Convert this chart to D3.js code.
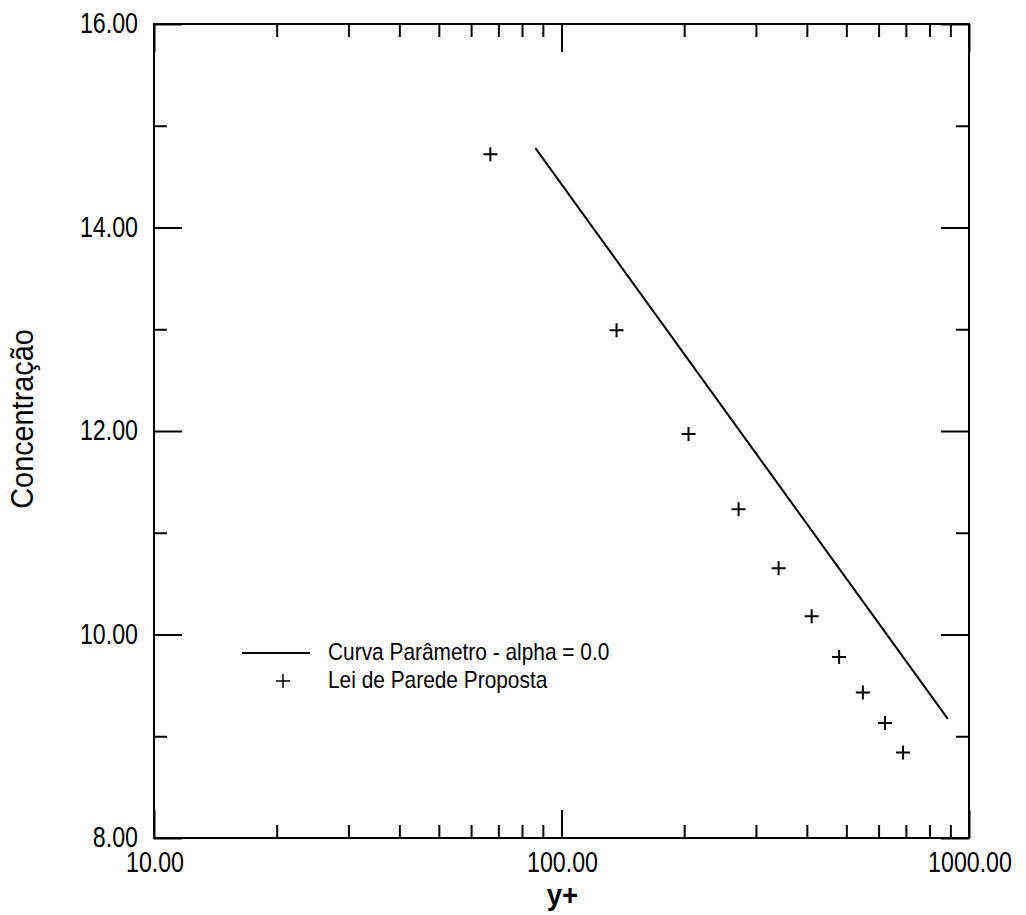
<!DOCTYPE html>
<html>
<head>
<meta charset="utf-8">
<script src="https://cdn.jsdelivr.net/npm/d3@7"></script>
<style>
  html, body { margin: 0; padding: 0; background: #fff; }
  svg { display: block; }
  text { font-family: "Liberation Sans", Arial, sans-serif; fill: #000; }
</style>
</head>
<body>
<svg id="chart" width="1026" height="915"></svg>
<script>
// ---- data ----
const seriesLineName = "Curva Parâmetro - alpha = 0.0";
const seriesPointsName = "Lei de Parede Proposta";
const lineX = [86.3, 887];
const lineY = [14.78, 9.17];
const pointsX = [66.9, 136.5, 205, 272, 341, 411, 480, 549, 622, 689];
const pointsY = [14.72, 12.99, 11.97, 11.23, 10.65, 10.18, 9.78, 9.43, 9.13, 8.84];
const xMajorTicks = [10, 100, 1000];
const xMajorLabels = ["10.00", "100.00", "1000.00"];
const xMinorTicks = [20, 30, 40, 50, 60, 70, 80, 90, 200, 300, 400, 500, 600, 700, 800, 900];
const yMajorTicks = [8, 10, 12, 14, 16];
const yMajorLabels = ["8.00", "10.00", "12.00", "14.00", "16.00"];
const yMinorTicks = [9, 11, 13, 15];
const xTitle = "y+";
const yTitle = "Concentração";

// ---- layout ----
const L = 154, R = 969, T = 24, B = 838;
const svg = d3.select("#chart");
const x = d3.scaleLog().domain([10, 1000]).range([L, R]);
const y = d3.scaleLinear().domain([8, 16]).range([B, T]);

const MAJ = 28, MIN = 13;

function axisGroup(gen, tx, ty) {
  const g = svg.append("g").attr("transform", `translate(${tx},${ty})`).call(gen);
  g.select(".domain").remove();
  g.selectAll("text").remove();
  g.selectAll("line").attr("stroke", "#000").attr("stroke-width", 2);
  return g;
}
// bottom (inward = upward)
axisGroup(d3.axisBottom(x).tickValues(xMajorTicks).tickSize(-MAJ), 0, B);
axisGroup(d3.axisBottom(x).tickValues(xMinorTicks).tickSize(-MIN), 0, B);
// top (inward = downward)
axisGroup(d3.axisTop(x).tickValues(xMajorTicks).tickSize(-MAJ), 0, T);
axisGroup(d3.axisTop(x).tickValues(xMinorTicks).tickSize(-MIN), 0, T);
// left
axisGroup(d3.axisLeft(y).tickValues(yMajorTicks).tickSize(-MAJ), L, 0);
axisGroup(d3.axisLeft(y).tickValues(yMinorTicks).tickSize(-MIN), L, 0);
// right
axisGroup(d3.axisRight(y).tickValues(yMajorTicks).tickSize(-MAJ), R, 0);
axisGroup(d3.axisRight(y).tickValues(yMinorTicks).tickSize(-MIN), R, 0);

// frame
svg.append("rect").attr("x", L).attr("y", T).attr("width", R - L).attr("height", B - T)
  .attr("fill", "none").attr("stroke", "#000").attr("stroke-width", 2);

// tick labels
const SX = 0.8;
svg.append("g").selectAll("text").data(xMajorTicks).join("text")
  .attr("transform", d => `translate(${x(d) + 1},872) scale(${SX},1)`)
  .attr("text-anchor", "middle").attr("font-size", 29)
  .text((d, i) => xMajorLabels[i]);
svg.append("g").selectAll("text").data(yMajorTicks).join("text")
  .attr("transform", d => `translate(138,${y(d) + 9}) scale(${SX},1)`)
  .attr("text-anchor", "end").attr("font-size", 29)
  .text((d, i) => yMajorLabels[i]);

// axis titles
svg.append("text")
  .attr("transform", `translate(${(L + R) / 2 + 1},905) scale(0.95,1)`)
  .attr("text-anchor", "middle").attr("font-size", 29).attr("font-weight", "bold")
  .text(xTitle);
svg.append("text")
  .attr("transform", `translate(33,${(B + T) / 2 - 12}) rotate(-90) scale(0.93,1)`)
  .attr("text-anchor", "middle").attr("font-size", 31)
  .text(yTitle);

// line series
const lineData = lineX.map((v, i) => [v, lineY[i]]);
svg.append("path").datum(lineData)
  .attr("fill", "none").attr("stroke", "#000").attr("stroke-width", 2)
  .attr("d", d3.line().x(d => x(d[0])).y(d => y(d[1])));

// crosses
const cs = 7;
const crossPath = (cx, cy) => `M${cx - cs},${cy}H${cx + cs}M${cx},${cy - cs}V${cy + cs}`;
svg.append("g").selectAll("path").data(pointsX.map((v, i) => [v, pointsY[i]])).join("path")
  .attr("d", d => crossPath(x(d[0]), y(d[1])))
  .attr("stroke", "#000").attr("stroke-width", 2).attr("fill", "none");

// legend
const lg = svg.append("g");
lg.append("line").attr("x1", 242).attr("x2", 310).attr("y1", 653).attr("y2", 653)
  .attr("stroke", "#000").attr("stroke-width", 2);
lg.append("path").attr("d", crossPath(283, 681)).attr("stroke", "#000").attr("stroke-width", 1.5);
lg.append("text").attr("transform", "translate(328,660) scale(0.87,1)")
  .attr("font-size", 24).text(seriesLineName);
lg.append("text").attr("transform", "translate(328,688) scale(0.87,1)")
  .attr("font-size", 24).text(seriesPointsName);
</script>
</body>
</html>
